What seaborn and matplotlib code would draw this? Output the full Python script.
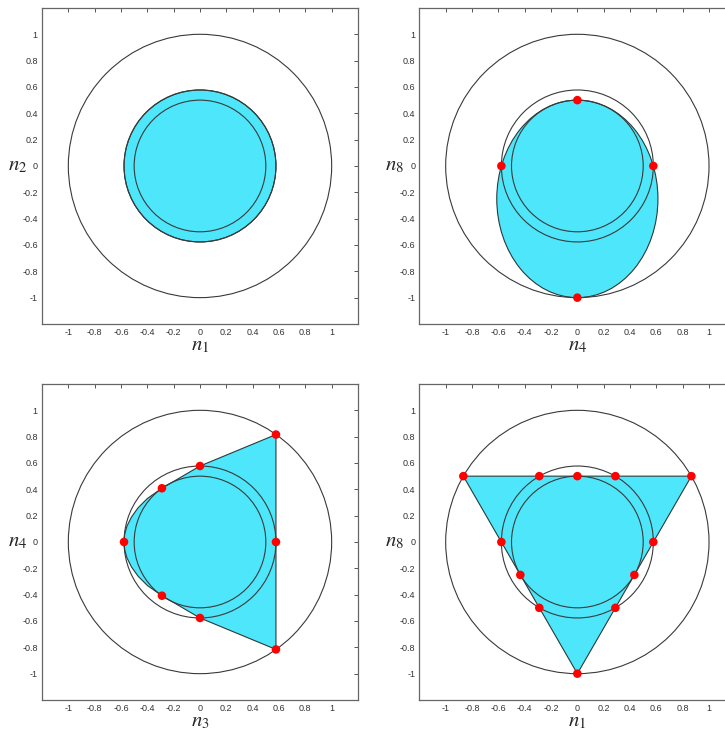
import matplotlib
matplotlib.use("Agg")
import matplotlib.pyplot as plt
from matplotlib.patches import Circle, Ellipse
import seaborn as sns

# reference circles drawn in every panel (unit circle, 1/sqrt(3), 1/2)
circle_radii = [1.0, 0.577, 0.5]

# axis label digits for the four panels (x, y)
x_label_digits = ["1", "4", "3", "1"]
y_label_digits = ["2", "8", "4", "8"]

tick_values = [-1, -0.8, -0.6, -0.4, -0.2, 0, 0.2, 0.4, 0.6, 0.8, 1]
tick_labels = ["-1", "-0.8", "-0.6", "-0.4", "-0.2", "0",
               "0.2", "0.4", "0.6", "0.8", "1"]

# panel 1: filled disc
disc_radius = 0.577

# panel 2: ellipse and its marked points
ellipse_center = (0.0, -0.25)
ellipse_width = 1.224
ellipse_height = 1.5
pts2_x = [0, -0.577, 0.577, 0]
pts2_y = [0.5, 0, 0, -1]

# panel 3: outline of the region and marked points
region3_x = [0.577, 0, -0.289, -0.40, -0.47, -0.52, -0.555, -0.572, -0.577,
             -0.572, -0.555, -0.52, -0.47, -0.40, -0.289, 0, 0.577]
region3_y = [0.816, 0.577, 0.408, 0.33, 0.26, 0.19, 0.12, 0.06, 0,
             -0.06, -0.12, -0.19, -0.26, -0.33, -0.408, -0.577, -0.816]
pts3_x = [0.577, 0, -0.289, -0.577, -0.289, 0, 0.577, 0.577]
pts3_y = [0.816, 0.577, 0.408, 0, -0.408, -0.577, -0.816, 0]

# panel 4: triangle and marked points
tri_x = [-0.866, 0.866, 0]
tri_y = [0.5, 0.5, -1]
pts4_x = [-0.866, -0.289, 0, 0.289, 0.866, -0.577, 0.577,
          -0.433, 0.433, -0.289, 0.289, 0]
pts4_y = [0.5, 0.5, 0.5, 0.5, 0.5, 0, 0,
          -0.25, -0.25, -0.5, -0.5, -1]

CYAN = "#4DE6FB"
EDGE = "#2a3a3a"
LINE = "#3a3a3a"

sns.set_style("white")
plt.rcParams["mathtext.fontset"] = "stix"
plt.rcParams["font.family"] = ["Liberation Sans", "DejaVu Sans"]

fig = plt.figure(figsize=(7.25, 7.3), dpi=100)
positions = [
    [0.0579, 0.5562, 0.4359, 0.4329],
    [0.5784, 0.5562, 0.4359, 0.4329],
    [0.0579, 0.0411, 0.4359, 0.4329],
    [0.5784, 0.0411, 0.4359, 0.4329],
]
axes = [fig.add_axes(p) for p in positions]


def style_axis(ax, xd, yd):
    """Frame, ticks, labels and reference circles for one panel."""
    ax.set_xlim(-1.2, 1.2)
    ax.set_ylim(-1.2, 1.2)
    ax.set_aspect("equal")
    ax.set_xticks(tick_values)
    ax.set_xticklabels(tick_labels)
    ax.set_yticks(tick_values)
    ax.set_yticklabels(tick_labels)
    ax.tick_params(direction="in", length=3, width=0.7, colors="#555555",
                   labelcolor="#333333", labelsize=6.5, pad=3,
                   top=True, right=True)
    for s in ax.spines.values():
        s.set_color("#666666")
        s.set_linewidth(0.9)
    ax.set_xlabel(r"$n_{%s}$" % xd, fontsize=15)
    ax.set_ylabel(r"$n_{%s}$" % yd, fontsize=15, rotation=0)
    ax.xaxis.set_label_coords(0.5, -0.068)
    ax.xaxis.label.set_va("center")
    ax.yaxis.set_label_coords(-0.078, 0.5)
    ax.yaxis.label.set_va("center")
    ax.yaxis.label.set_ha("center")
    for r in circle_radii:
        ax.add_patch(Circle((0, 0), r, fill=False, ec=LINE, lw=0.8, zorder=3))


def red_points(ax, xs, ys):
    sns.scatterplot(x=xs, y=ys, ax=ax, color="#FF0000", s=38,
                    edgecolor="none", zorder=5, legend=False)


# panel 1
ax = axes[0]
ax.add_patch(Circle((0, 0), disc_radius, fc=CYAN, ec=EDGE, lw=0.8, zorder=2))

# panel 2
ax = axes[1]
ax.add_patch(Ellipse(ellipse_center, ellipse_width, ellipse_height,
                     fc=CYAN, ec=EDGE, lw=0.8, zorder=2))
red_points(ax, pts2_x, pts2_y)

# panel 3
ax = axes[2]
ax.fill(region3_x, region3_y, fc=CYAN, ec=EDGE, lw=0.8, zorder=2)
red_points(ax, pts3_x, pts3_y)

# panel 4
ax = axes[3]
ax.fill(tri_x, tri_y, fc=CYAN, ec=EDGE, lw=0.8, zorder=2)
red_points(ax, pts4_x, pts4_y)

for ax, xd, yd in zip(axes, x_label_digits, y_label_digits):
    style_axis(ax, xd, yd)

fig.savefig("out.png", dpi=100)
